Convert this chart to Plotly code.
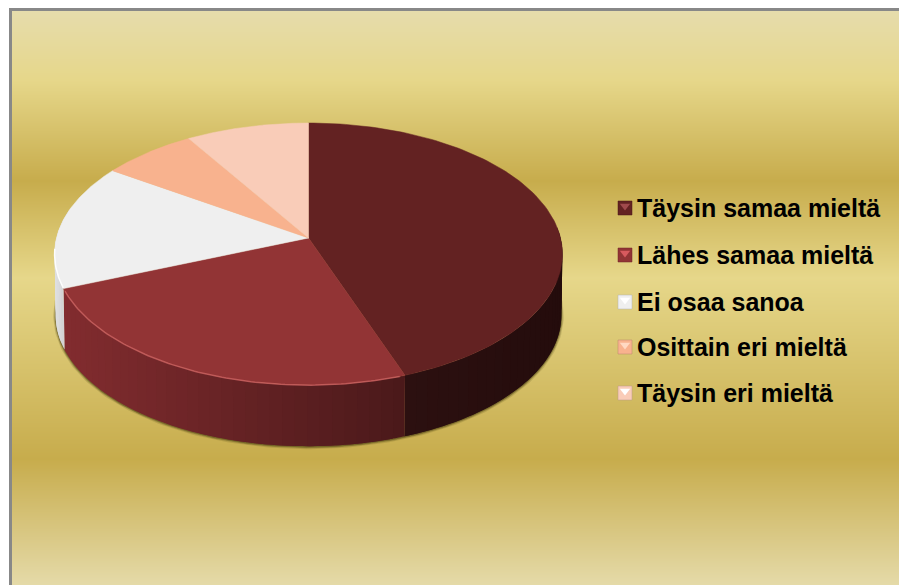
import numpy as np
import plotly.graph_objects as go

categories = ["Täysin samaa mieltä", "Lähes samaa mieltä", "Ei osaa sanoa", "Osittain eri mieltä", "Täysin eri mieltä"]
values = [44.5, 24.4, 15.5, 6.8, 8.8]
top_colors = ["#632222", "#923435", "#efefef", "#f8b28e", "#f9ccb8"]
wall_left = ["#2c1010", "#822c2f", "#dfe0e2", "#f8b28e", "#f9ccb8"]
wall_right = ["#240c0c", "#4a191a", "#c8c8c8", "#f8b28e", "#f9ccb8"]
legend_light = ["#a04a4c", "#d85a5e", "#ffffff", "#ffd9c2", "#ffffff"]

W, H = 899, 585
CX, CY = 308.5, 238
A, B, K = 252, 129.1, 0.1226
DEPTH = 61
VIS0, VIS1 = np.radians(85), np.radians(283)


def project(theta, depth=0.0):
    u, v = np.sin(theta), np.cos(theta)
    d = 1 + K * v
    s = 1 - 0.00007 * depth
    return CX + s * A * u / d, CY - B * v / d + depth


def mix(c1, c2, t):
    a = [int(c1[i:i + 2], 16) for i in (1, 3, 5)]
    b = [int(c2[i:i + 2], 16) for i in (1, 3, 5)]
    return "rgb(%d,%d,%d)" % tuple(round(p + (q - p) * t) for p, q in zip(a, b))


bounds = np.radians(np.concatenate([[0], np.cumsum(values)]) * 3.6)
fig = go.Figure()

# Background gradient, one row per pixel
stop_y = [11, 80, 181, 278, 459, 590]
stop_c = ["#e6dcac", "#e6d78a", "#c7ac4c", "#e6d78a", "#c7ac4c", "#e6dcac"]
ys = np.array(stop_y, dtype=float)
scale = [[(y - ys[0]) / (ys[-1] - ys[0]), c] for y, c in zip(ys, stop_c)]
row_edges = np.arange(11, H + 1, 1.0)
row_mid = 0.5 * (row_edges[:-1] + row_edges[1:])
fig.add_trace(go.Heatmap(x=[12, W], y=row_edges, z=[[y] for y in row_mid], colorscale=scale,
                         zmin=ys[0], zmax=ys[-1], showscale=False, hoverinfo="skip"))

# Soft shadow under the disc
th = np.linspace(VIS0, VIS1, 200)
for w, op in [(5, 0.14), (3, 0.24), (1.5, 0.38)]:
    sx, sy = project(th, DEPTH + 0.5)
    fig.add_trace(go.Scatter(x=sx, y=sy, mode="lines", line=dict(color="rgba(60,50,10,%s)" % op, width=w),
                             hoverinfo="skip", showlegend=False))

# Side wall, shaded by x
for i in range(len(values)):
    a0v, a1v = max(bounds[i], VIS0), min(bounds[i + 1], VIS1)
    if a1v <= a0v:
        continue
    n = max(3, int(np.degrees(a1v - a0v) / 2.5))
    edges = np.linspace(a0v, a1v, n + 1)
    xs_all = project(edges)[0]
    xmin, xmax = xs_all.min(), xs_all.max()
    for j in range(n):
        end = edges[min(j + 2, n)]
        seg = np.linspace(edges[j], end, 6)
        tx, ty = project(seg)
        bx, by = project(seg[::-1], DEPTH)
        t = (0.5 * (project(edges[j])[0] + project(edges[j + 1])[0]) - xmin) / max(xmax - xmin, 1)
        col = mix(wall_left[i], wall_right[i], t)
        fig.add_trace(go.Scatter(x=np.r_[tx, bx, tx[0]], y=np.r_[ty, by, ty[0]], mode="none", fill="toself",
                                 fillcolor=col, hoverinfo="skip", showlegend=False))

# Top face
for i, (name, col) in enumerate(zip(categories, top_colors)):
    th = np.linspace(bounds[i], bounds[i + 1], 120)
    ex, ey = project(th)
    fig.add_trace(go.Scatter(x=np.r_[CX, ex, CX], y=np.r_[CY, ey, CY], mode="lines", fill="toself", fillcolor=col,
                             line=dict(color=col, width=0.5), name=name, showlegend=False, hoverinfo="name"))

# Rim highlights
th = np.linspace(bounds[1] + 0.02, bounds[2] - 0.02, 100)
ex, ey = project(th)
fig.add_trace(go.Scatter(x=ex, y=ey, mode="lines", line=dict(color="rgba(205,100,100,0.75)", width=1.5),
                         hoverinfo="skip", showlegend=False))
th = np.linspace(bounds[2] + 0.005, bounds[2] + 0.3, 40)
ex, ey = project(th)
fig.add_trace(go.Scatter(x=ex, y=ey, mode="lines", line=dict(color="rgba(255,255,255,0.9)", width=1.5),
                         hoverinfo="skip", showlegend=False))

# Legend
leg_y = [208, 255, 302, 347, 393]
for name, col, light, y in zip(categories, top_colors, legend_light, leg_y):
    fig.add_trace(go.Scatter(x=[625], y=[y], mode="markers",
                             marker=dict(symbol="square", size=14, color=col,
                                         line=dict(color=mix(col, "#000000", 0.25), width=0.5)),
                             hoverinfo="skip", showlegend=False))
    fig.add_trace(go.Scatter(x=[625], y=[y - 2], mode="markers",
                             marker=dict(symbol="triangle-down", size=9, color=light),
                             hoverinfo="skip", showlegend=False))
    fig.add_annotation(x=635, y=y, text=name, showarrow=False, xanchor="left", yanchor="middle",
                       font=dict(family="Liberation Sans", size=25, color="#000000", weight="bold"))

fig.update_layout(
    width=W, height=H, autosize=False, margin=dict(l=0, r=0, t=0, b=0),
    paper_bgcolor="#ffffff", plot_bgcolor="rgba(0,0,0,0)", showlegend=False,
    xaxis=dict(range=[0, W], visible=False, fixedrange=True),
    yaxis=dict(range=[H, 0], visible=False, fixedrange=True),
    shapes=[dict(type="line", x0=10.5, x1=10.5, y0=8, y1=H, line=dict(color="#888888", width=3)),
            dict(type="line", x0=9, x1=W, y0=9.5, y1=9.5, line=dict(color="#888888", width=3))],
)
fig.write_html("out.html", config=dict(displayModeBar=False),
               post_script="document.body.style.margin='0';document.body.style.overflow='hidden';")
